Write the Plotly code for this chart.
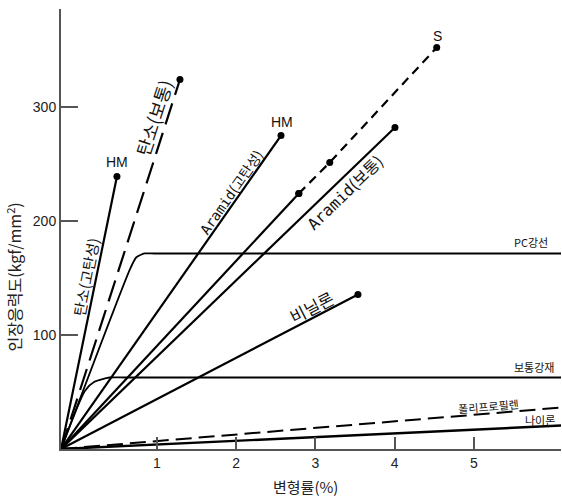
import plotly.graph_objects as go

# ---- data (strain in %, stress in kgf/mm^2) ----
# the drawing's curves all start at the axes corner, which sits at strain -0.21 on the tick scale
carbon_hm_strain = [-0.21, 0.495]
carbon_hm_stress = [0, 239.3]

carbon_std_strain = [-0.21, 1.29]
carbon_std_stress = [0, 324.5]

aramid_hm_strain = [-0.21, 2.565]
aramid_hm_stress = [0, 275.3]

eglass_strain = [-0.21, 2.79]
eglass_stress = [0, 224.4]
sglass_strain = [2.79, 3.18, 4.53]
sglass_stress = [224.4, 251.6, 352.6]

aramid_std_strain = [-0.21, 4.003]
aramid_std_stress = [0, 282.3]

vinylon_strain = [-0.21, 3.536]
vinylon_stress = [0, 135.7]

pc_strain = [-0.21, 0.66, 0.74, 0.845, 0.97, 6.1]
pc_stress = [0, 158, 168.4, 171.7, 171.7, 171.7]

steel_strain = [-0.21, 0.09, 0.21, 0.40, 0.6, 6.1]
steel_stress = [0, 51, 59, 62.8, 62.8, 62.8]

pp_strain = [-0.21, 6.1]
pp_stress = [0, 36.4]

nylon_strain = [-0.21, 6.1]
nylon_stress = [0, 20.6]

x_ticks = [1, 2, 3, 4, 5]
y_ticks = [100, 200, 300]

FONT = "Liberation Sans, Arial, Noto Sans CJK KR, sans-serif"
KFONT = "Noto Sans CJK KR, Liberation Sans, sans-serif"
MONO = "<span style='font-family:DejaVu Sans Mono'>Aramid</span>"

fig = go.Figure()

def line(x, y, dash="solid", width=2.2, end_dot=True):
    fig.add_trace(go.Scatter(x=x, y=y, mode="lines", showlegend=False,
                             line=dict(color="black", width=width, dash=dash),
                             hoverinfo="skip"))
    if end_dot:
        fig.add_trace(go.Scatter(x=[x[-1]], y=[y[-1]], mode="markers", showlegend=False,
                                 marker=dict(color="black", size=7), hoverinfo="skip"))

line(carbon_hm_strain, carbon_hm_stress)
line(carbon_std_strain, carbon_std_stress, dash="22px,9px")
line(aramid_hm_strain, aramid_hm_stress)
line(eglass_strain, eglass_stress)
line(sglass_strain, sglass_stress, dash="9px,6px", end_dot=False)
fig.add_trace(go.Scatter(x=sglass_strain, y=sglass_stress, mode="markers", showlegend=False,
                         marker=dict(color="black", size=7), hoverinfo="skip"))
line(aramid_std_strain, aramid_std_stress)
line(vinylon_strain, vinylon_stress)
fig.add_trace(go.Scatter(x=pc_strain, y=pc_stress, mode="lines", showlegend=False,
                         line=dict(color="black", width=1.8, shape="spline", smoothing=0.6),
                         hoverinfo="skip"))
fig.add_trace(go.Scatter(x=steel_strain, y=steel_stress, mode="lines", showlegend=False,
                         line=dict(color="black", width=1.8, shape="spline", smoothing=0.6),
                         hoverinfo="skip"))
line(pp_strain, pp_stress, dash="16px,7px", width=2, end_dot=False)
line(nylon_strain, nylon_stress, width=2.4, end_dot=False)

labels = [
    ("HM", 0.495, 251.9, 0, 14, FONT),
    ("탄소(고탄성)", 0.104, 151.5, -79, 15, KFONT),
    ("탄소(보통)", 0.95, 291.1, -72, 18, KFONT),
    (MONO + "(고탄성)", 1.934, 225.3, -55, 14, KFONT),
    ("HM", 2.577, 287.6, 0, 14, FONT),
    ("S", 4.545, 362.3, 0, 14, FONT),
    (MONO + "(보통)", 3.36, 226.1, -44, 16, KFONT),
    ("비닐론", 2.956, 125.1, -27, 17, KFONT),
    ("PC강선", 5.72, 182.2, 0, 11, KFONT),
    ("보통강재", 5.757, 71.6, 0, 11, KFONT),
    ("폴리프로필렌", 5.177, 38.2, -5, 11, KFONT),
    ("나이론", 5.83, 25.9, 0, 11, KFONT),
]
for t, x, y, a, s, f in labels:
    fig.add_annotation(x=x, y=y, text=t, showarrow=False, textangle=a,
                       font=dict(family=f, size=s, color="#111"))

# axis titles
fig.add_annotation(xref="paper", yref="paper", x=-0.094, y=0.39, text="인장응력도(kgf/mm<sup>2</sup>)",
                   textangle=-90, showarrow=False, xanchor="center", yanchor="middle",
                   font=dict(family=KFONT, size=16, color="#222"))
fig.add_annotation(xref="paper", yref="paper", x=0.488, y=-0.086, text="변형률(%)",
                   showarrow=False, xanchor="center", yanchor="middle",
                   font=dict(family=KFONT, size=15, color="#222"))

fig.update_layout(
    width=562, height=496,
    margin=dict(l=61, r=1, t=9, b=47),
    paper_bgcolor="white", plot_bgcolor="white",
    font=dict(family=FONT, color="#222"),
)
fig.update_xaxes(range=[-0.211, 6.098], tickvals=x_ticks, ticks="inside", ticklen=12,
                 tickcolor="#555", tickwidth=1.5, showline=True, linecolor="#555", linewidth=2,
                 showgrid=False, zeroline=False, tickfont=dict(size=14, color="#222"))
fig.update_yaxes(range=[0, 386.4], tickvals=y_ticks, ticks="inside", ticklen=17,
                 tickcolor="#555", tickwidth=1.5, showline=True, linecolor="#555", linewidth=2,
                 showgrid=False, zeroline=False, tickfont=dict(size=14, color="#222"))

fig.write_html("out.html", config={"displayModeBar": False},
               post_script="document.body.style.margin='0';document.body.style.overflow='hidden';")
